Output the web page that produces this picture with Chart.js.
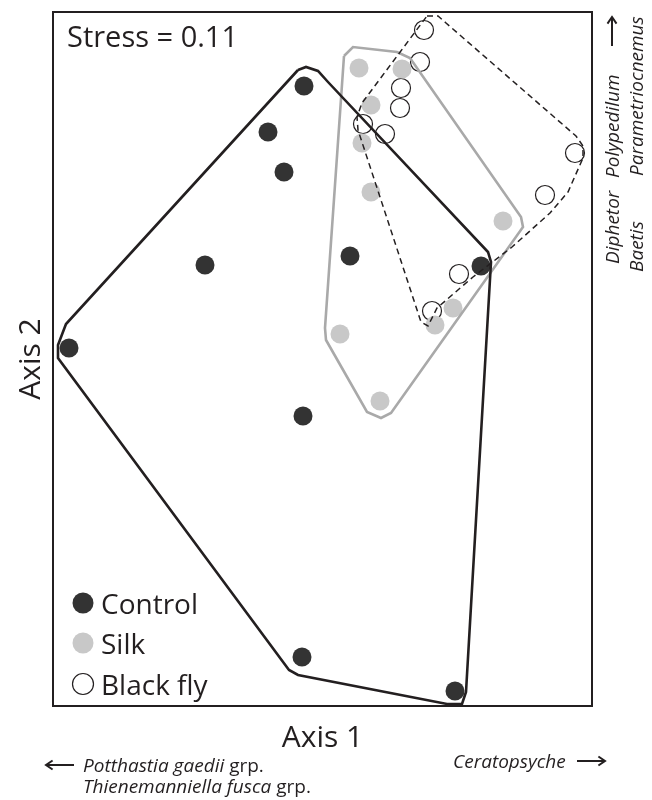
<!DOCTYPE html>
<html>
<head>
<meta charset="utf-8">
<script src="https://cdn.jsdelivr.net/npm/chart.js@4.4.1/dist/chart.umd.min.js"></script>
<style>
  html, body { margin: 0; padding: 0; background: #fff; }
  #wrap { width: 652px; height: 800px; position: relative; }
</style>
</head>
<body>
<div id="wrap"><canvas id="nmds"></canvas></div>
<script>
// NMDS scores (arbitrary axis units)
const controlX = [2.51, 2.15, 2.31, 1.52, 2.97, 0.16, 2.50, 4.28, 2.49, 4.02];
const controlY = [6.20, 5.74, 5.34, 4.41, 4.50, 3.58, 2.90, 4.40, 0.49, 0.15];
const silkX = [3.06, 3.49, 3.18, 3.09, 3.18, 4.50, 2.87, 4.00, 3.82, 3.27];
const silkY = [6.38, 6.37, 6.01, 5.63, 5.14, 4.85, 3.72, 3.98, 3.81, 3.05];
const blackflyX = [3.71, 3.67, 3.48, 3.47, 3.10, 3.32, 5.22, 4.92, 4.06, 3.79];
const blackflyY = [6.76, 6.44, 6.18, 5.98, 5.82, 5.72, 5.53, 5.11, 4.32, 3.95];

// hull outlines around each group
const controlHullX = [2.45, 2.53, 2.65, 2.75, 4.35, 4.38, 4.13, 4.09, 3.94, 2.45, 2.36, 0.05, 0.05, 0.13, 2.45];
const controlHullY = [6.36, 6.39, 6.35, 6.24, 4.54, 4.44, 0.14, 0.02, 0.02, 0.31, 0.36, 3.48, 3.61, 3.82, 6.36];
const silkHullX = [2.91, 3.00, 3.44, 3.57, 4.68, 4.70, 3.38, 3.28, 3.14, 2.73, 2.72, 2.91];
const silkHullY = [6.50, 6.59, 6.54, 6.48, 4.89, 4.79, 2.93, 2.88, 2.94, 3.66, 3.78, 6.50];
const blackflyHullX = [3.74, 3.85, 3.93, 5.23, 5.30, 5.30, 5.15, 4.97, 4.59, 4.20, 3.84, 3.75, 3.68, 3.05, 3.04, 3.09, 3.74];
const blackflyHullY = [6.90, 6.90, 6.83, 5.70, 5.60, 5.48, 5.14, 4.93, 4.59, 4.29, 3.98, 3.80, 3.84, 5.76, 5.89, 6.03, 6.90];

const groupNames = ['Control', 'Silk', 'Black fly'];
const stressText = 'Stress = 0.11';
const axisNames = ['Axis 1', 'Axis 2'];

const pts = (xs, ys) => xs.map((x, i) => ({ x: x, y: ys[i] }));

const INK = '#231f20';
const FONT = '"Open Sans", "DejaVu Sans", sans-serif';

function arrow(ctx, x1, y1, x2, y2) {
    // arrow from (x1,y1) to (x2,y2)
    const a = Math.atan2(y2 - y1, x2 - x1);
    ctx.beginPath();
    ctx.moveTo(x1, y1);
    ctx.lineTo(x2, y2);
    ctx.moveTo(x2 - 8 * Math.cos(a - 0.6), y2 - 8 * Math.sin(a - 0.6));
    ctx.lineTo(x2, y2);
    ctx.lineTo(x2 - 8 * Math.cos(a + 0.6), y2 - 8 * Math.sin(a + 0.6));
    ctx.stroke();
}

const decorations = {
    id: 'decorations',
    afterDraw(chart) {
        const ctx = chart.ctx;
        const area = chart.chartArea;
        ctx.save();

        // plot frame
        ctx.strokeStyle = INK;
        ctx.lineWidth = 2;
        ctx.strokeRect(area.left, area.top, area.right - area.left, area.bottom - area.top);

        ctx.fillStyle = INK;
        ctx.textBaseline = 'alphabetic';

        // stress value
        ctx.font = '29px ' + FONT;
        ctx.textAlign = 'left';
        ctx.fillText(stressText, 67, 47);

        // axis titles
        ctx.font = '30px ' + FONT;
        ctx.textAlign = 'center';
        ctx.fillText(axisNames[0], (area.left + area.right) / 2, 747);
        ctx.save();
        ctx.translate(40, (area.top + area.bottom) / 2);
        ctx.rotate(-Math.PI / 2);
        ctx.fillText(axisNames[1], 0, 0);
        ctx.restore();

        // legend inside the plot
        const sets = chart.data.datasets.slice(3);
        ctx.textAlign = 'left';
        ctx.font = '28px ' + FONT;
        const rowY = [603, 643, 684];
        sets.forEach((ds, i) => {
            ctx.beginPath();
            ctx.arc(83, rowY[i], 10.5, 0, Math.PI * 2);
            if (ds.backgroundColor !== 'transparent') {
                ctx.fillStyle = ds.backgroundColor;
                ctx.fill();
            } else {
                ctx.strokeStyle = ds.borderColor;
                ctx.lineWidth = 1.2;
                ctx.stroke();
            }
            ctx.fillStyle = INK;
            ctx.fillText(groupNames[i], 101, rowY[i] + 11);
        });

        // taxa driving axis 1
        const it = 'italic 19px ' + FONT;
        const rg = '19px ' + FONT;
        ctx.strokeStyle = INK;
        ctx.lineWidth = 2;
        arrow(ctx, 74, 765, 46, 765);
        ctx.font = it;
        let w = ctx.measureText('Potthastia gaedii').width;
        ctx.fillText('Potthastia gaedii', 83, 772);
        ctx.font = rg;
        ctx.fillText(' grp.', 83 + w, 772);
        ctx.font = it;
        w = ctx.measureText('Thienemanniella fusca').width;
        ctx.fillText('Thienemanniella fusca', 83, 793);
        ctx.font = rg;
        ctx.fillText(' grp.', 83 + w, 793);
        ctx.font = it;
        ctx.fillText('Ceratopsyche', 453, 768);
        arrow(ctx, 577, 761, 605, 761);

        // taxa driving axis 2 (rotated, right side)
        ctx.save();
        ctx.rotate(-Math.PI / 2);
        // after rotation: x' = -y, y' = x
        ctx.fillText('Diphetor', -264, 619);
        ctx.fillText('Polypedilum', -178, 619);
        ctx.fillText('Baetis', -272, 643);
        ctx.fillText('Parametriocnemus', -176, 643);
        ctx.restore();
        arrow(ctx, 612, 46, 612, 17);

        ctx.restore();
    }
};

const hullStyle = { showLine: true, pointRadius: 0, fill: false, tension: 0 };
const pointStyle = { showLine: false, pointRadius: 9.5, pointHoverRadius: 9.5 };

new Chart(document.getElementById('nmds'), {
    type: 'scatter',
    data: {
        datasets: [
            Object.assign({ label: 'Control hull', data: pts(controlHullX, controlHullY),
                borderColor: INK, borderWidth: 2.6 }, hullStyle),
            Object.assign({ label: 'Black fly hull', data: pts(blackflyHullX, blackflyHullY),
                borderColor: INK, borderWidth: 1.5, borderDash: [6, 4] }, hullStyle),
            Object.assign({ label: 'Silk hull', data: pts(silkHullX, silkHullY),
                borderColor: '#a9a9a9', borderWidth: 2.6 }, hullStyle),
            Object.assign({ label: groupNames[0], data: pts(controlX, controlY),
                backgroundColor: '#333333', borderColor: '#333333', borderWidth: 0 }, pointStyle),
            Object.assign({ label: groupNames[1], data: pts(silkX, silkY),
                backgroundColor: '#c8c8c8', borderColor: '#c8c8c8', borderWidth: 0 }, pointStyle),
            Object.assign({ label: groupNames[2], data: pts(blackflyX, blackflyY),
                backgroundColor: 'transparent', borderColor: INK, borderWidth: 1.2 }, pointStyle)
        ]
    },
    options: {
        responsive: true,
        maintainAspectRatio: false,
        animation: false,
        layout: { padding: { left: 53, top: 12, right: 60, bottom: 94 } },
        plugins: {
            legend: { display: false },
            tooltip: { enabled: false }
        },
        scales: {
            x: { type: 'linear', min: 0, max: 5.39, display: false },
            y: { type: 'linear', min: 0, max: 6.94, display: false }
        }
    },
    plugins: [decorations]
});
</script>
</body>
</html>
